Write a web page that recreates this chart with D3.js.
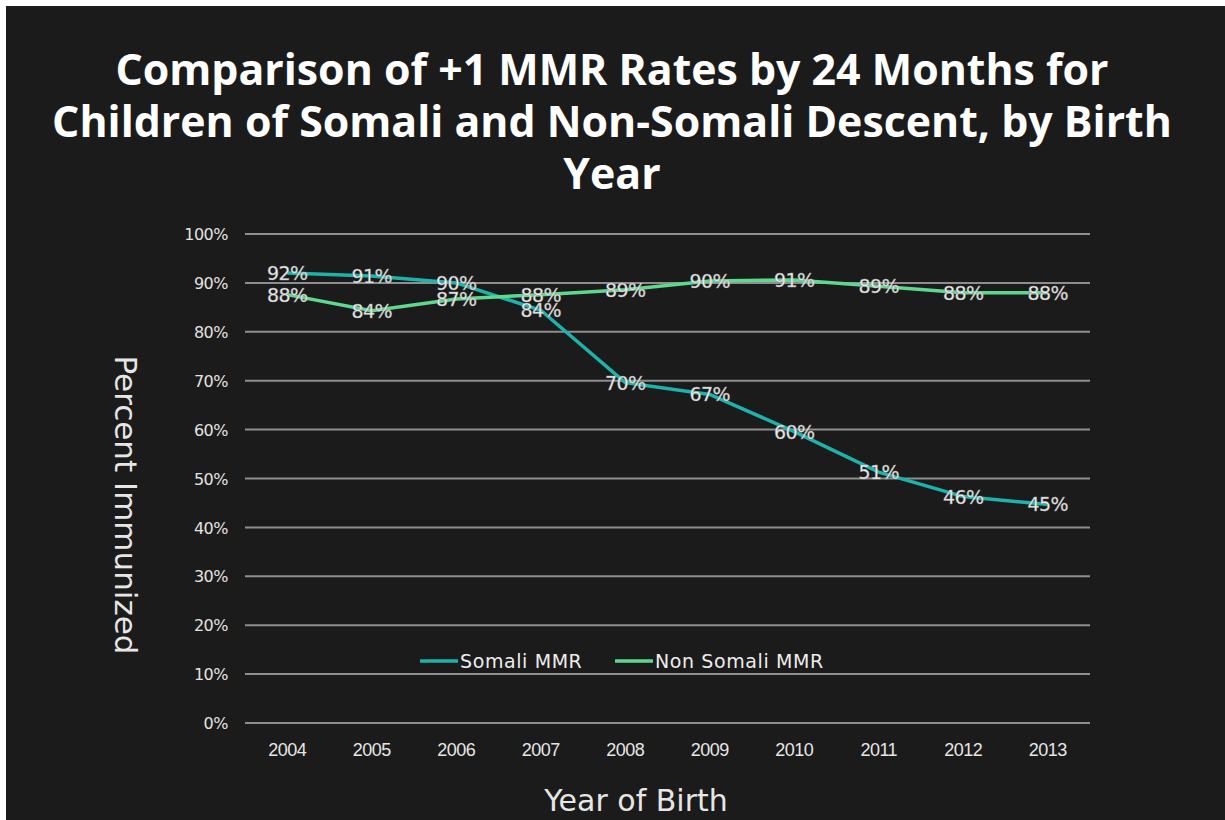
<!DOCTYPE html>
<html>
<head>
<meta charset="utf-8">
<script src="https://cdn.jsdelivr.net/npm/d3@7"></script>
<style>
  html, body { margin: 0; padding: 0; background: #fff; }
  #chart { width: 1225px; height: 820px; overflow: hidden; }
  text { font-family: "DejaVu Sans", "Lato", sans-serif; }
</style>
</head>
<body>
<div id="chart"></div>
<script>
const width = 1225;
const height = 820;

const years = ["2004", "2005", "2006", "2007", "2008", "2009", "2010", "2011", "2012", "2013"];
const somali = [92.0, 91.4, 90.0, 84.4, 69.6, 67.2, 59.6, 51.3, 46.3, 44.7];
const nonSomali = [87.6, 84.3, 86.7, 87.6, 88.6, 90.4, 90.6, 89.3, 88.0, 88.0];
const yTicks = [0, 10, 20, 30, 40, 50, 60, 70, 80, 90, 100];
const titleLines = [
  "Comparison of +1 MMR Rates by 24 Months for",
  "Children of Somali and Non-Somali Descent, by Birth",
  "Year"
];

const series = [
  { name: "Somali MMR", values: somali, color: "#1cb3aa" },
  { name: "Non Somali MMR", values: nonSomali, color: "#5ed88f" }
];

const plot = { left: 245, right: 1090, top: 234, bottom: 723 };

const svg = d3.select("#chart")
  .append("svg")
  .attr("width", width)
  .attr("height", height);

// dark slide with thin white frame top/left
svg.append("rect")
  .attr("x", 6).attr("y", 6)
  .attr("width", width - 6).attr("height", height - 6)
  .attr("fill", "#1c1b1b");

// title
const title = svg.append("g");
const titleBase = [85, 137, 189];
titleLines.forEach((t, i) => {
  title.append("text")
    .attr("x", 612)
    .attr("y", titleBase[i])
    .attr("text-anchor", "middle")
    .attr("fill", "#ffffff")
    .style("font-family", "'Open Sans', 'DejaVu Sans', sans-serif")
    .style("font-weight", "700")
    .style("font-size", "44px")
    .text(t);
});
// fit the second line to the width seen in the slide
const t2 = title.selectAll("text").nodes()[1];
const w2 = t2.getComputedTextLength();
const fit = 44 * 1120 / w2;
title.selectAll("text").style("font-size", fit + "px");

const x = d3.scaleBand()
  .domain(years)
  .range([plot.left, plot.right]);

const y = d3.scaleLinear()
  .domain([0, 100])
  .range([plot.bottom, plot.top]);

// grid
svg.append("g")
  .selectAll("line")
  .data(yTicks)
  .join("line")
  .attr("x1", plot.left)
  .attr("x2", plot.right)
  .attr("y1", (d) => y(d))
  .attr("y2", (d) => y(d))
  .attr("stroke", "#8e8e8e")
  .attr("stroke-width", 2);

// y axis labels
const yAxis = svg.append("g")
  .attr("transform", `translate(${plot.left - 17},0)`)
  .call(d3.axisLeft(y).tickValues(yTicks).tickSize(0).tickPadding(0).tickFormat((d) => d + "%"));
yAxis.select(".domain").remove();
yAxis.selectAll("text")
  .attr("fill", "#e2e2e2")
  .attr("dy", "0.35em")
  .style("font-size", "16px")
  .style("font-family", "'DejaVu Sans', sans-serif")
  .style("letter-spacing", "-0.5px");

// x axis labels
const xAxis = svg.append("g")
  .attr("transform", `translate(0,${plot.bottom + 20})`)
  .call(d3.axisBottom(x).tickSize(0).tickPadding(0));
xAxis.select(".domain").remove();
xAxis.selectAll("text")
  .attr("fill", "#e6e6e6")
  .style("font-size", "18px")
  .style("font-family", "'Liberation Sans Narrow', 'Liberation Sans', sans-serif")
  .style("letter-spacing", "-0.5px");

// axis titles
svg.append("text")
  .attr("x", 636)
  .attr("y", 811)
  .attr("text-anchor", "middle")
  .attr("fill", "#e6e6e6")
  .style("font-size", "30px")
  .text("Year of Birth");

svg.append("text")
  .attr("transform", "translate(115,505) rotate(90)")
  .attr("text-anchor", "middle")
  .attr("fill", "#e6e6e6")
  .style("font-size", "31px")
  .text("Percent Immunized");

// lines
const line = d3.line()
  .x((d, i) => x(years[i]) + x.bandwidth() / 2)
  .y((d) => y(d));

svg.append("g")
  .selectAll("path")
  .data(series)
  .join("path")
  .attr("d", (s) => line(s.values))
  .attr("fill", "none")
  .attr("stroke", (s) => s.color)
  .attr("stroke-width", 3.5);

// data labels
series.forEach((s) => {
  svg.append("g")
    .selectAll("text")
    .data(s.values)
    .join("text")
    .attr("x", (d, i) => x(years[i]) + x.bandwidth() / 2)
    .attr("y", (d) => y(d) + 7)
    .attr("text-anchor", "middle")
    .attr("fill", "#f2f2f2")
    .attr("stroke", "#9a9a9a")
    .attr("stroke-width", 0.4)
    .style("font-size", "19px")
    .style("letter-spacing", "-0.5px")
    .text((d) => Math.round(d) + "%");
});

// legend
const legend = svg.append("g").attr("transform", "translate(420,661)");
const legX = [0, 195];
series.forEach((s, i) => {
  const g = legend.append("g").attr("transform", `translate(${legX[i]},0)`);
  g.append("line")
    .attr("x1", 0).attr("x2", 38)
    .attr("stroke", s.color)
    .attr("stroke-width", 3.5);
  g.append("text")
    .attr("x", 40)
    .attr("y", 7)
    .attr("fill", "#ededed")
    .style("font-size", "19px")
    .style("letter-spacing", "0.6px")
    .text(s.name);
});
</script>
</body>
</html>
